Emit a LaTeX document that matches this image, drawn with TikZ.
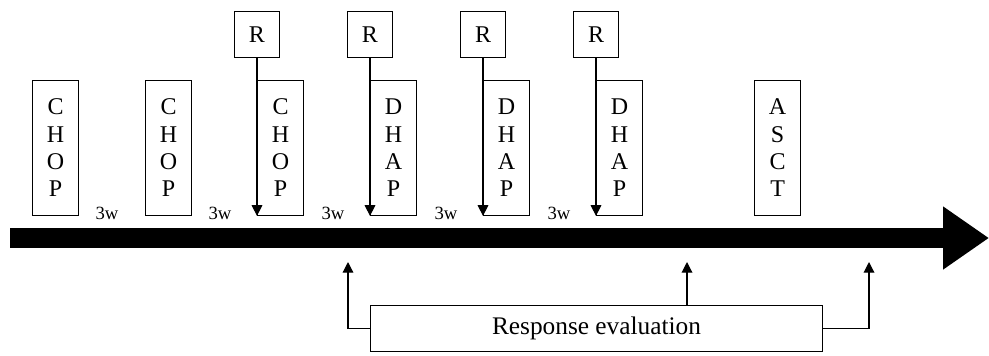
\documentclass[tikz,border=0pt]{standalone}
\usepackage{fontspec}
\setmainfont{Liberation Serif}
\usetikzlibrary{arrows.meta}
\begin{document}
\begin{tikzpicture}[x=0.75pt,y=-0.75pt,
	drug/.style={draw,line width=0.9pt,minimum width=34.5pt,minimum height=101pt,anchor=north west,align=center,inner sep=0pt,font=\fontsize{18}{20.5}\selectfont},
	rbox/.style={draw,line width=0.9pt,minimum size=34pt,inner sep=0pt,font=\fontsize{18}{20}\selectfont},
	gap/.style={font=\fontsize{14}{16}\selectfont},
	link/.style={line width=0.9pt,-{Triangle[width=8pt,length=8pt]}}]
	\useasboundingbox (0,0) rectangle (989,355);
	% time axis
	\coordinate (t0) at (10,238);
	\coordinate (t1) at (989,238);
	\draw[line width=15pt,-{Triangle[width=45pt,length=34.5pt]}] (t0) -- (t1);
	% CHOP cycles
	\node[drug] (chop1) at (32,80) {C\\H\\O\\P};
	\node[drug] (chop2) at (145,80) {C\\H\\O\\P};
	\node[drug] (chop3) at (257,80) {C\\H\\O\\P};
	% DHAP cycles
	\foreach \i/\x in {1/370,2/483,3/596}
		\node[drug] (dhap\i) at (\x,80) {D\\H\\A\\P};
	\node[drug] (asct) at (754,80) {A\\S\\C\\T};
	% rituximab
	\foreach \i/\b in {1/chop3,2/dhap1,3/dhap2,4/dhap3} {
		\node[rbox] (r\i) at (\b.north west |- 0,34.5) {R};
		\draw[link] (r\i) -- (\b.south west);
	}
	% intervals
	\foreach \x in {107,220,333,446,559}
		\node[gap] at (\x,213) {3w};
	% evaluation
	\node[draw,line width=0.9pt,minimum width=339pt,minimum height=35pt,font=\fontsize{19}{21}\selectfont] (resp) at (596.5,328.5) {Response evaluation};
	\coordinate (e1) at (348,262);
	\coordinate (e2) at (687,262);
	\coordinate (e3) at (869,262);
	\draw[link] (resp.west) -| (e1);
	\draw[link] (resp.north -| e2) -- (e2);
	\draw[link] (resp.east) -| (e3);
\end{tikzpicture}
\end{document}
